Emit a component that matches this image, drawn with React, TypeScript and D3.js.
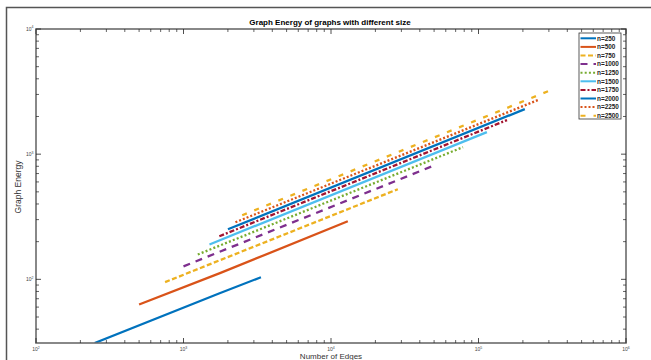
import React from "react";
import * as d3 from "d3";

// ---- data ----
const seriesNames = ["n=250", "n=500", "n=750", "n=1000", "n=1250", "n=1500", "n=1750", "n=2000", "n=2250", "n=2500"];
const seriesEdges: number[][] = [
  [250, 1740, 3350],
  [500, 1766, 13000],
  [750, 28400],
  [1000, 50700],
  [1250, 78500],
  [1500, 114000],
  [1750, 156000],
  [2000, 206000],
  [2250, 253000],
  [2500, 310000],
];
const seriesEnergy: number[][] = [
  [31, 77, 104],
  [63, 112, 291],
  [95, 525],
  [127, 817],
  [158, 1138],
  [190, 1500],
  [221, 1871],
  [251, 2291],
  [286, 2704],
  [319, 3192],
];
const xTickExponents = [2, 3, 4, 5, 6];
const yTickExponents = [2, 3, 4];
const titleText = "Graph Energy of graphs with different size";
const xLabelText = "Number of Edges";
const yLabelText = "Graph Energy";

// ---- styles ----
const colors = ["#0072BD", "#D95319", "#EDB120", "#7E2F8E", "#77AC30", "#4DBEEE", "#A2142F", "#0072BD", "#D95319", "#EDB120"];
const dashes = ["", "", "5,2.5", "7,6", "2,2.2", "", "5,2,2,2", "", "2,2", "5,8"];

const W = 651;
const H = 360;
const left = 36, right = 626, top = 29, bottom = 343;

export default function App() {
  const x = d3.scaleLog().domain([100, 1e6]).range([left, right]);
  const y = d3.scaleLog().domain([31, 1e4]).range([bottom, top]);
  const line = d3
    .line<[number, number]>()
    .x((d) => x(d[0]))
    .y((d) => y(d[1]));

  const xMinor: number[] = [];
  for (let e = 2; e < 6; e++) for (let k = 2; k <= 9; k++) xMinor.push(k * Math.pow(10, e));
  const yMinor: number[] = [];
  for (let e = 1; e < 4; e++)
    for (let k = 2; k <= 9; k++) {
      const v = k * Math.pow(10, e);
      if (v >= 31 && v <= 1e4) yMinor.push(v);
    }

  const axisColor = "#6b6b6b";
  const tickColor = "#222";
  const font = "'Liberation Sans', Arial, sans-serif";

  const legendX = 579, legendY = 33, legendW = 42, legendH = 86;
  const entryH = 8.6;

  return (
    <div style={{ position: "fixed", left: 0, top: 0, width: W, height: H, background: "#fff" }}>
      <svg width={W} height={H} style={{ display: "block" }} fontFamily={font}>
        <rect x={0} y={0} width={W} height={H} fill="#fff" />
        {/* outer frame */}
        <path d={`M6.5,${H + 5} L6.5,7.5 L${W + 5},7.5`} fill="none" stroke="#555" strokeWidth={1.5} />
        <defs>
          <clipPath id="plotclip">
            <rect x={left} y={top} width={right - left} height={bottom - top} />
          </clipPath>
        </defs>

        {/* series */}
        <g clipPath="url(#plotclip)">
          {seriesNames.map((name, i) => {
            const pts = seriesEdges[i].map((m, j) => [m, seriesEnergy[i][j]] as [number, number]);
            return (
              <path
                key={name}
                d={line(pts) || ""}
                fill="none"
                stroke={colors[i]}
                strokeWidth={2.3}
                strokeDasharray={dashes[i] || undefined}
                transform={i === 9 ? "translate(0,-1)" : undefined}
              />
            );
          })}
        </g>

        {/* axes box */}
        <rect x={left} y={top} width={right - left} height={bottom - top} fill="none" stroke={axisColor} strokeWidth={1.6} />

        {/* x ticks */}
        {xTickExponents.map((e) => {
          const px = x(Math.pow(10, e));
          return (
            <g key={"xt" + e}>
              <line x1={px} x2={px} y1={bottom} y2={bottom - 5} stroke={tickColor} strokeWidth={0.8} />
              <line x1={px} x2={px} y1={top} y2={top + 5} stroke={tickColor} strokeWidth={0.8} />
              <text x={px} y={351} fontSize={5} fill="#444" textAnchor="middle">
                10<tspan fontSize={3.5} dy={-2.2}>{e}</tspan>
              </text>
            </g>
          );
        })}
        {xMinor.map((v) => {
          const px = x(v);
          return (
            <g key={"xm" + v}>
              <line x1={px} x2={px} y1={bottom} y2={bottom - 3} stroke={tickColor} strokeWidth={0.7} />
              <line x1={px} x2={px} y1={top} y2={top + 3} stroke={tickColor} strokeWidth={0.7} />
            </g>
          );
        })}

        {/* y ticks */}
        {yTickExponents.map((e) => {
          const py = y(Math.pow(10, e));
          return (
            <g key={"yt" + e}>
              <line x1={left} x2={left + 5} y1={py} y2={py} stroke={tickColor} strokeWidth={0.8} />
              <line x1={right} x2={right - 5} y1={py} y2={py} stroke={tickColor} strokeWidth={0.8} />
              <text x={31.5} y={py + 1.6} fontSize={5} fill="#444" textAnchor="end">
                10
              </text>
              <text x={31.6} y={py - 0.6} fontSize={3.5} fill="#444" textAnchor="start">
                {e}
              </text>
            </g>
          );
        })}
        {yMinor.map((v) => {
          const py = y(v);
          return (
            <g key={"ym" + v}>
              <line x1={left} x2={left + 3} y1={py} y2={py} stroke={tickColor} strokeWidth={0.7} />
              <line x1={right} x2={right - 3} y1={py} y2={py} stroke={tickColor} strokeWidth={0.7} />
            </g>
          );
        })}

        {/* title and labels */}
        <text x={330} y={25} fontSize={8} fontWeight="bold" textAnchor="middle" fill="#000">
          {titleText}
        </text>
        <text x={331} y={359} fontSize={8} textAnchor="middle" fill="#333">
          {xLabelText}
        </text>
        <text
          transform={`translate(21,187) rotate(-90)`}
          fontSize={8.5}
          textAnchor="middle"
          fill="#333"
        >
          {yLabelText}
        </text>

        {/* legend */}
        <rect x={legendX} y={legendY} width={legendW} height={legendH} fill="#fff" stroke="#333" strokeWidth={0.8} />
        {seriesNames.map((name, i) => {
          const cy = legendY + 5.3 + i * entryH;
          return (
            <g key={"lg" + name}>
              <line
                x1={580.5}
                x2={596}
                y1={cy}
                y2={cy}
                stroke={colors[i]}
                strokeWidth={2}
                strokeDasharray={dashes[i] || undefined}
              />
              <text x={597} y={cy + 2.3} fontSize={6.4} fontWeight="bold" fill="#222">
                {name}
              </text>
            </g>
          );
        })}
      </svg>
    </div>
  );
}
